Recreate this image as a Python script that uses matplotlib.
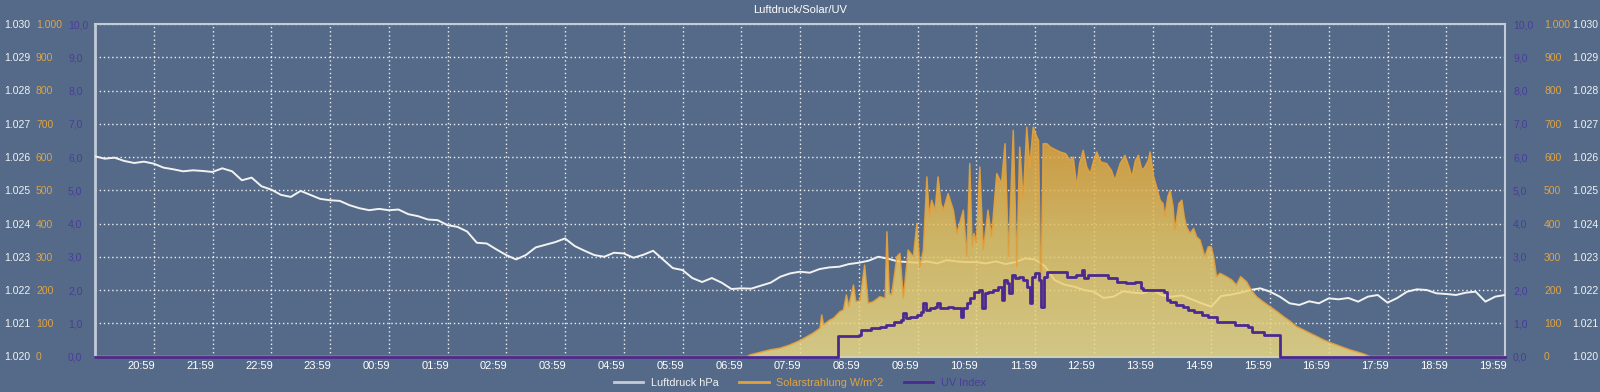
import numpy as np
import matplotlib
matplotlib.use('Agg')
import matplotlib.pyplot as plt
from matplotlib.colors import LinearSegmentedColormap
from matplotlib.lines import Line2D
from matplotlib.transforms import ScaledTranslation

plt.rcParams['font.family'] = ['Liberation Sans', 'DejaVu Sans']

# time axis: hours after 19:59 (start of the 24h window)
hour_labels = ['20:59', '21:59', '22:59', '23:59', '00:59', '01:59', '02:59', '03:59',
               '04:59', '05:59', '06:59', '07:59', '08:59', '09:59', '10:59', '11:59',
               '12:59', '13:59', '14:59', '15:59', '16:59', '17:59', '18:59', '19:59']

# Luftdruck hPa, every 10 minutes from 19:59
pressure = [
    1026.02, 1025.95, 1025.98, 1025.88, 1025.82, 1025.86,
    1025.80, 1025.68, 1025.63, 1025.57, 1025.60, 1025.58,
    1025.55, 1025.66, 1025.57, 1025.30, 1025.38, 1025.12,
    1025.02, 1024.86, 1024.80, 1024.98, 1024.86, 1024.74,
    1024.70, 1024.68, 1024.55, 1024.46, 1024.40, 1024.44,
    1024.40, 1024.42, 1024.28, 1024.22, 1024.12, 1024.10,
    1023.95, 1023.90, 1023.76, 1023.42, 1023.40, 1023.22,
    1023.05, 1022.92, 1023.05, 1023.28, 1023.36, 1023.44,
    1023.55, 1023.32, 1023.18, 1023.05, 1023.00, 1023.12,
    1023.10, 1022.97, 1023.06, 1023.18, 1022.92, 1022.66,
    1022.60, 1022.36, 1022.24, 1022.36, 1022.22, 1022.03,
    1022.05, 1022.04, 1022.13, 1022.22, 1022.40, 1022.50,
    1022.55, 1022.52, 1022.63, 1022.68, 1022.70, 1022.78,
    1022.82, 1022.88, 1023.00, 1022.94, 1022.86, 1022.84,
    1022.82, 1022.86, 1022.80, 1022.90, 1022.86, 1022.84,
    1022.84, 1022.80, 1022.86, 1022.78, 1022.84, 1022.95,
    1022.92, 1022.72, 1022.30, 1022.16, 1022.10, 1022.00,
    1021.95, 1021.76, 1021.80, 1021.96, 1021.92, 1021.90,
    1022.00, 1021.84, 1021.80, 1021.84, 1021.72, 1021.60,
    1021.50, 1021.82, 1021.86, 1021.92, 1022.00, 1022.05,
    1021.95, 1021.80, 1021.60, 1021.55, 1021.66, 1021.60,
    1021.75, 1021.72, 1021.76, 1021.65, 1021.80, 1021.85,
    1021.62, 1021.76, 1021.95, 1022.02, 1022.00, 1021.90,
    1021.88, 1021.85, 1021.92, 1021.95, 1021.65, 1021.80,
    1021.85]
pressure_h = np.arange(len(pressure)) / 6.0

# Solarstrahlung W/m^2 (hours after 19:59, value)
solar_h = [0.0, 11.10, 11.15, 11.49, 11.66, 11.83, 12.00, 12.22, 12.34, 12.37, 12.40,
           12.51, 12.57, 12.68, 12.74, 12.79, 12.83, 12.91, 12.95, 13.02, 13.10,
           13.16, 13.25, 13.36, 13.45, 13.48, 13.52, 13.56, 13.65, 13.70, 13.76,
           13.84, 13.93, 13.99, 14.04, 14.10, 14.16, 14.20, 14.24, 14.30, 14.35,
           14.40, 14.44, 14.52, 14.61, 14.67, 14.78, 14.84, 14.89, 14.93, 14.96,
           15.00, 15.06, 15.12, 15.20, 15.26, 15.35, 15.43, 15.49, 15.55, 15.63,
           15.69, 15.74, 15.80, 15.86, 15.91, 15.97, 16.03, 16.06, 16.10, 16.14,
           16.20, 16.26, 16.31, 16.43, 16.52, 16.60, 16.65, 16.71, 16.76, 16.82,
           16.88, 16.94, 17.00, 17.05, 17.12, 17.22, 17.30, 17.36, 17.45, 17.53,
           17.60, 17.65, 17.71, 17.76, 17.82, 17.87, 17.93, 17.96, 18.02, 18.07,
           18.13, 18.18, 18.21, 18.26, 18.30, 18.35, 18.38, 18.45, 18.50, 18.54,
           18.58, 18.64, 18.70, 18.75, 18.81, 18.89, 18.95, 19.00, 19.04, 19.09,
           19.15, 19.26, 19.35, 19.43, 19.50, 19.60, 19.68, 19.77, 19.88, 20.00,
           20.12, 20.23, 20.35, 20.45, 20.57, 20.68, 20.80, 20.91, 21.02, 21.13,
           21.25, 21.36, 21.48, 21.59, 21.70, 24.0]
solar = [0, 0, 5, 20, 25, 35, 48, 70, 85, 125, 95,
         110, 115, 135, 140, 185, 150, 215, 165, 168, 275,
         160, 165, 180, 175, 375, 190, 185, 300, 310, 175,
         320, 300, 400, 270, 320, 540, 420, 470, 440, 540,
         460, 440, 490, 440, 370, 440, 300, 580, 330, 370,
         340, 570, 320, 440, 360, 550, 520, 640, 300, 680,
         270, 630, 470, 690, 570, 690, 660, 650, 170, 640,
         640, 630, 625, 615, 610, 590, 600, 510, 580, 620,
         570, 550, 590, 615, 585, 580, 560, 530, 580, 605,
         570, 540, 590, 605, 560, 570, 590, 615, 540, 510,
         470, 460, 420, 480, 500, 450, 380, 460, 470, 420,
         390, 370, 385, 360, 350, 300, 330, 330, 300, 240,
         250, 240, 230, 215, 240, 225, 200, 180, 165, 150,
         135, 120, 105, 90, 80, 70, 60, 50, 42, 35,
         27, 20, 14, 8, 0, 0]

# UV Index (hours after 19:59, value)
uv_h = [0.0, 12.65, 13.00, 13.04, 13.20, 13.36, 13.47, 13.60, 13.72, 13.76, 13.80,
        13.87, 13.99, 14.06, 14.10, 14.15, 14.22, 14.30, 14.33, 14.38, 14.44,
        14.52, 14.60, 14.67, 14.74, 14.78, 14.84, 14.90, 14.96, 15.04, 15.10,
        15.15, 15.20, 15.29, 15.37, 15.43, 15.47, 15.52, 15.55, 15.60, 15.66,
        15.72, 15.80, 15.86, 15.91, 15.95, 16.00, 16.06, 16.11, 16.16, 16.20,
        16.55, 16.70, 16.80, 16.84, 16.90, 17.25, 17.39, 17.55, 17.70, 17.80,
        17.84, 18.20, 18.24, 18.30, 18.40, 18.52, 18.60, 18.70, 18.84, 18.95,
        19.10, 19.40, 19.62, 19.70, 19.90, 20.17, 24.0]
uv = [0.0, 0.62, 0.65, 0.8, 0.85, 0.9, 0.95, 1.05, 1.1, 1.3, 1.15,
      1.2, 1.25, 1.35, 1.6, 1.4, 1.45, 1.5, 1.6, 1.45, 1.45,
      1.5, 1.45, 1.45, 1.2, 1.45, 1.6, 1.75, 1.95, 2.0, 1.45,
      1.9, 1.95, 2.0, 2.1, 1.7, 2.3, 2.2, 1.9, 2.45, 2.35,
      2.4, 2.3, 2.1, 1.6, 2.4, 2.5, 2.3, 1.5, 2.4, 2.55,
      2.4, 2.45, 2.6, 2.35, 2.45, 2.35, 2.25, 2.2, 2.25, 2.05,
      2.0, 1.95, 1.7, 1.65, 1.55, 1.5, 1.4, 1.35, 1.25, 1.2,
      1.05, 0.95, 0.9, 0.75, 0.65, 0.0, 0.0]

bg = '#546a88'
c_press = '#f2f2f2'
c_solar = '#e6a23a'
c_uv = '#4b2a90'
c_solar_lbl = '#e0a444'
c_uv_lbl = '#4a3c9c'
spine_c = '#c3cbd8'

fig = plt.figure(figsize=(16, 3.92), dpi=100, facecolor=bg)
ax = fig.add_axes([95 / 1600, 1 - 356.5 / 392, 1410 / 1600, 332.5 / 392])
ax.set_facecolor(bg)

# pressure (drawn first, sits below the solar fill)
ax.plot(pressure_h, pressure, color=c_press, lw=1.4, zorder=3)
ax.set_xlim(0, 24)
ax.set_ylim(1020, 1030)
ax.set_xticks(range(1, 25))
ax.set_xticklabels(hour_labels)
ax.set_yticks(range(1020, 1031))
ax.set_yticklabels(['{:.3f}'.format(v / 1000) for v in range(1020, 1031)])
ax.grid(True, color='white', linestyle=(0, (1, 2)), lw=1, alpha=0.9)
ax.tick_params(axis='x', length=0, pad=3, labelsize=8, labelcolor='white')
ax.tick_params(axis='y', length=0, pad=65.5, labelsize=7.5, labelcolor=c_press)
for lbl in ax.get_yticklabels():
    lbl.set_horizontalalignment('left')
off = ScaledTranslation(1.5 / 100, 0, fig.dpi_scale_trans)
for lbl in ax.get_xticklabels():
    lbl.set_horizontalalignment('right')
    lbl.set_transform(lbl.get_transform() + off)
for s in ax.spines.values():
    s.set_color(spine_c)
    s.set_linewidth(1.5)
ax.spines['left'].set_linewidth(2)

sec_p = ax.secondary_yaxis('right')
sec_p.set_yticks(range(1020, 1031))
sec_p.set_yticklabels(['{:.3f}'.format(v / 1000) for v in range(1020, 1031)])
sec_p.tick_params(length=0, pad=48.2, labelsize=7.5, labelcolor=c_press)
sec_p.spines['right'].set_visible(False)

# solar radiation with gradient fill
ax_s = ax.twinx()
ax_s.set_ylim(0, 1000)
ax_s.set_xlim(0, 24)
poly = ax_s.fill_between(solar_h, 0, solar, facecolor='none', edgecolor='none')
cmap = LinearSegmentedColormap.from_list('solar', ['#efdc86', '#e9c660', '#e5a02d'])
grad = np.linspace(0, 1, 256).reshape(-1, 1)
im = ax_s.imshow(grad, extent=(0, 24, 0, 700), origin='lower', cmap=cmap,
                 aspect='auto', alpha=0.82, zorder=1)
im.set_clip_path(poly.get_paths()[0], transform=ax_s.transData)
ax_s.plot(solar_h, solar, color=c_solar, lw=1.1, alpha=0.9, zorder=2)
ax_s.set_xlim(0, 24)
ax_s.set_ylim(0, 1000)
ax_s.yaxis.tick_left()
ax_s.set_yticks(range(0, 1001, 100))
ax_s.set_yticklabels(['{:,}'.format(v).replace(',', '.') for v in range(0, 1001, 100)])
ax_s.tick_params(axis='y', length=0, pad=42.5, labelsize=7.5, labelcolor=c_solar_lbl)
for lbl in ax_s.get_yticklabels():
    lbl.set_horizontalalignment('left')
for s in ax_s.spines.values():
    s.set_visible(False)
sec_s = ax_s.secondary_yaxis('right')
sec_s.set_yticks(range(0, 1001, 100))
sec_s.set_yticklabels(['{:,}'.format(v).replace(',', '.') for v in range(0, 1001, 100)])
sec_s.tick_params(length=0, pad=28.1, labelsize=7.5, labelcolor=c_solar_lbl)
sec_s.spines['right'].set_visible(False)

# UV index
ax_u = ax.twinx()
ax_u.plot(uv_h, uv, color=c_uv, lw=2, drawstyle='steps-post', clip_on=False, zorder=4)
ax_u.set_xlim(0, 24)
ax_u.set_ylim(0, 10)
ax_u.yaxis.tick_left()
ax_u.set_yticks(range(0, 11))
ax_u.set_yticklabels(['{},0'.format(v) for v in range(0, 11)])
ax_u.tick_params(axis='y', length=0, pad=19.4, labelsize=7.5, labelcolor=c_uv_lbl)
for lbl in ax_u.get_yticklabels():
    lbl.set_horizontalalignment('left')
for s in ax_u.spines.values():
    s.set_visible(False)
sec_u = ax_u.secondary_yaxis('right')
sec_u.set_yticks(range(0, 11))
sec_u.set_yticklabels(['{},0'.format(v) for v in range(0, 11)])
sec_u.tick_params(length=0, pad=5.8, labelsize=7.5, labelcolor=c_uv_lbl)
sec_u.spines['right'].set_visible(False)

fig.text(0.5, 1 - 10 / 392, 'Luftdruck/Solar/UV', ha='center', va='center',
         color='white', fontsize=8)

handles = [Line2D([], [], color='#c8ccd4', lw=2),
           Line2D([], [], color=c_solar, lw=2),
           Line2D([], [], color=c_uv, lw=2)]
leg = fig.legend(handles, ['Luftdruck hPa', 'Solarstrahlung W/m^2', 'UV Index'],
                 loc='center', bbox_to_anchor=(0.5, 1 - 382.5 / 392), ncol=3,
                 frameon=False, fontsize=7.8, handlelength=2.7, handletextpad=0.7,
                 columnspacing=1.9)
for t, c in zip(leg.get_texts(), [c_press, c_solar_lbl, c_uv_lbl]):
    t.set_color(c)

fig.savefig('out.png', dpi=100, facecolor=bg)
